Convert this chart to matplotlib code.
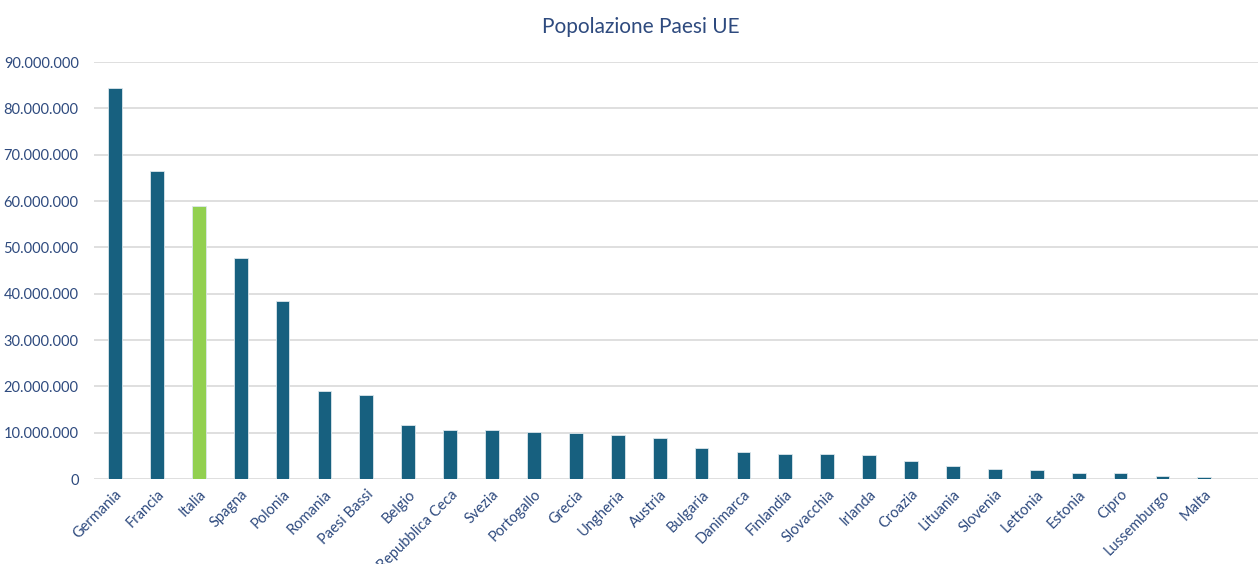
import matplotlib.pyplot as plt
from matplotlib.ticker import FuncFormatter

# dati popolazione
paesi = ['Germania', 'Francia', 'Italia', 'Spagna', 'Polonia', 'Romania', 'Paesi Bassi',
         'Belgio', 'Repubblica Ceca', 'Svezia', 'Portogallo', 'Grecia', 'Ungheria',
         'Austria', 'Bulgaria', 'Danimarca', 'Finlandia', 'Slovacchia', 'Irlanda',
         'Croazia', 'Lituania', 'Slovenia', 'Lettonia', 'Estonia', 'Cipro',
         'Lussemburgo', 'Malta']
popolazione = [84.4, 66.4, 59.0, 47.8, 38.4, 18.9, 18.1, 11.7, 10.5, 10.5, 10.2, 9.9,
               9.6, 8.9, 6.6, 5.8, 5.5, 5.4, 5.1, 3.8, 2.8, 2.1, 1.9, 1.3, 1.2, 0.6, 0.5]
popolazione = [v * 1e6 for v in popolazione]

blu = '#17607F'
verde = '#92D050'
testo = '#2E4A7E'
colori = [verde if p == 'Italia' else blu for p in paesi]

plt.rcParams['font.family'] = ['Lato', 'DejaVu Sans']

fig = plt.figure(figsize=(12.58, 5.64), dpi=100)
ax = fig.add_axes([0.0747, 0.1507, 0.9253, 0.7393])

x = range(len(paesi))
ax.bar(x, popolazione, width=0.33, color=colori,
       edgecolor='#DCE6EC', linewidth=0.6, zorder=3)

ax.set_ylim(0, 90e6)
ax.set_xlim(-0.5, 27.28)
ax.set_yticks([i * 10e6 for i in range(10)])
ax.yaxis.set_major_formatter(FuncFormatter(lambda v, p: f'{int(v):,}'.replace(',', '.')))
ax.grid(axis='y', color='#D9D9D9', linewidth=1.2, zorder=0)
ax.set_axisbelow(True)

ax.set_xticks(list(x))
ax.set_xticklabels(paesi, rotation=45, ha='right', rotation_mode='anchor',
                   fontsize=10.5, color=testo)
ax.tick_params(axis='y', labelsize=10.5, labelcolor=testo, length=0, pad=11)
ax.tick_params(axis='x', length=0, pad=6)
for s in ax.spines.values():
    s.set_visible(False)

fig.text(0.5095, 0.952, 'Popolazione Paesi UE', ha='center', va='center',
         fontsize=15, color=testo)

fig.savefig('out.png', dpi=100)
